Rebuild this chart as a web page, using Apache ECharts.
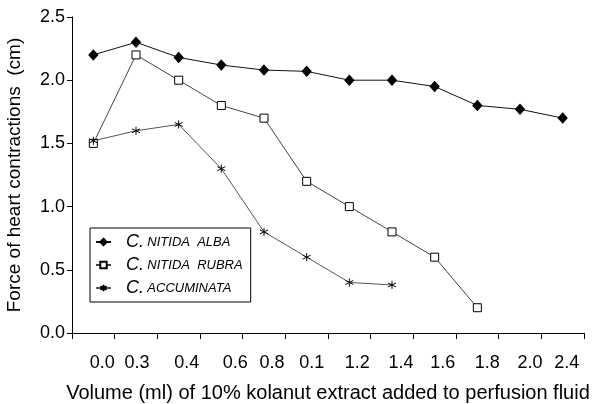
<!DOCTYPE html>
<html><head><meta charset="utf-8">
<script src="https://cdn.jsdelivr.net/npm/echarts@6/dist/echarts.min.js"></script>
<style>html,body{margin:0;padding:0;background:#fff}#c{width:592px;height:404px}</style>
</head><body><div id="c"></div>
<script>
var categories = ['0.0','0.3','0.4','0.6','0.8','0.1','1.2','1.4','1.6','1.8','2.0','2.4'];
var labelShift = [9,1,8,14,8,5,8,9,8,10,10,4];
var yTicks = [0, 0.5, 1.0, 1.5, 2.0, 2.5];
var alba = [2.2, 2.3, 2.18, 2.12, 2.08, 2.07, 2.0, 2.0, 1.95, 1.8, 1.77, 1.7];
var rubra = [1.5, 2.2, 2.0, 1.8, 1.7, 1.2, 1.0, 0.8, 0.6, 0.2, null, null];
var accuminata = [1.52, 1.6, 1.65, 1.3, 0.8, 0.6, 0.4, 0.38, null, null, null, null];
var seriesNames = ['C. NITIDA  ALBA', 'C. NITIDA  RUBRA', 'C. ACCUMINATA'];

var FONT = '"Liberation Sans", Arial, sans-serif';
var rich = {};
labelShift.forEach(function(s, i){ rich['p'+i] = {padding:[0,0,0,2*s], fontSize:18, fontFamily:FONT, color:'#000'}; });

var asterisk = 'path://M0,-10 L0,10 M-8.66,-5 L8.66,5 M-8.66,5 L8.66,-5';

var chart = echarts.init(document.getElementById('c'));
chart.setOption({
  animation:false,
  textStyle:{fontFamily:FONT},
  grid:{left:72, right:8, top:17, bottom:71, outerBoundsMode:'none', containLabel:false},
  legend:{
    left:90, top:228, width:161, height:75,
    orient:'vertical', itemGap:5, itemWidth:15, itemHeight:8,
    padding:[5,8,5,5],
    borderColor:'#000', borderWidth:1,
    data:seriesNames,
    formatter:function(n){ return '{a|C.} {b|' + n.slice(3) + '}'; },
    textStyle:{rich:{
      a:{fontSize:18, fontStyle:'italic', fontFamily:FONT, color:'#000', padding:[0,0,0,10], lineHeight:20},
      b:{fontSize:13, fontStyle:'italic', fontFamily:FONT, color:'#000', lineHeight:20}
    }}
  },
  xAxis:{
    type:'category', data:categories, boundaryGap:true,
    name:'Volume (ml) of 10% kolanut extract added to perfusion fluid',
    nameLocation:'middle', nameGap:50,
    nameTextStyle:{fontSize:20, color:'#000', fontFamily:FONT},
    axisLine:{lineStyle:{color:'#000', width:1}},
    axisTick:{show:true, length:6, inside:false, lineStyle:{color:'#000'}},
    axisLabel:{margin:21, interval:0, fontSize:18, color:'#000',
      formatter:function(v,i){ return '{p'+i+'|'+v+'}'; }, rich:rich},
    splitLine:{show:false}
  },
  yAxis:{
    type:'value', min:yTicks[0], max:yTicks[yTicks.length-1], interval:0.5,
    name:'Force of heart contractions  (cm)',
    nameLocation:'middle', nameGap:48, nameRotate:90,
    nameTextStyle:{fontSize:19, color:'#000', fontFamily:FONT},
    axisLine:{show:true, lineStyle:{color:'#000', width:1}},
    axisTick:{show:true, length:5, lineStyle:{color:'#000'}},
    axisLabel:{margin:7, fontSize:18, color:'#000', formatter:function(v){return v.toFixed(1);}},
    splitLine:{show:false}
  },
  series:[
    {name:seriesNames[0], type:'line', data:alba, symbol:'diamond', symbolSize:[9,10],
      lineStyle:{color:'#111', width:1}, itemStyle:{color:'#000', borderColor:'#000', borderWidth:1}},
    {name:seriesNames[1], type:'line', data:rubra, symbol:'rect', symbolSize:8,
      lineStyle:{color:'#444', width:1}, itemStyle:{color:'#fff', borderColor:'#000', borderWidth:1}},
    {name:seriesNames[2], type:'line', data:accuminata, symbol:asterisk, symbolSize:8,
      lineStyle:{color:'#555', width:1}, itemStyle:{color:'none', borderColor:'#000', borderWidth:1}}
  ]
});
</script></body></html>
